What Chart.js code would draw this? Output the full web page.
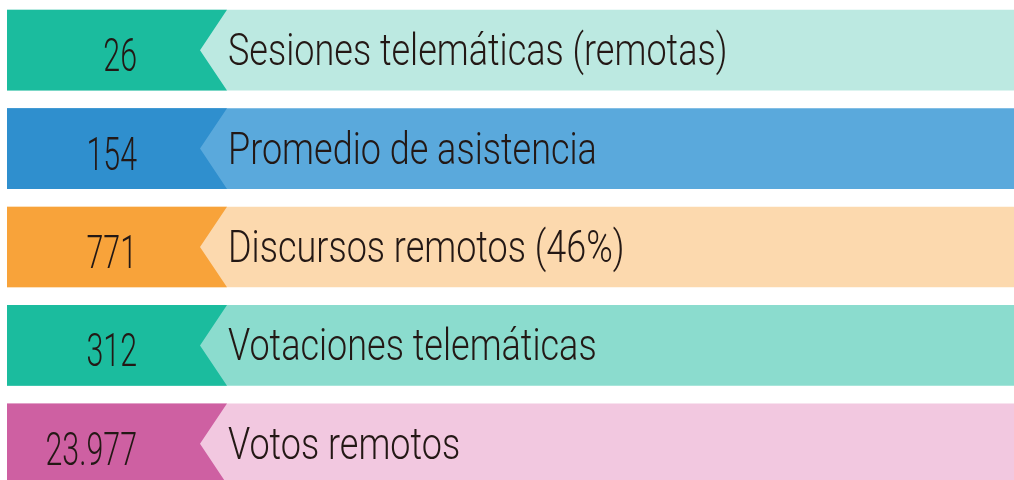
<!DOCTYPE html>
<html>
<head>
<meta charset="utf-8">
<script src="https://cdn.jsdelivr.net/npm/chart.js@4"></script>
<style>
    html, body { margin: 0; padding: 0; background: #fff; overflow: hidden; }
    .wrap { width: 1014px; height: 493px; position: relative; }
</style>
</head>
<body>
<div class="wrap"><canvas id="chart"></canvas></div>
<script>
const labels = [
    'Sesiones telemáticas (remotas)',
    'Promedio de asistencia',
    'Discursos remotos (46%)',
    'Votaciones telemáticas',
    'Votos remotos'
];
const values = [26, 154, 771, 312, 23977];
const barSpan = [1, 1, 1, 1, 1];
const darkColors = ['#1bbc9e', '#2f8fce', '#f8a33a', '#1bbc9e', '#ce60a2'];
const lightColors = ['#bce9e1', '#5aa9dc', '#fcd9ae', '#8bdcce', '#f2c8e0'];

function fmt(n) {
    return String(n).replace(/\B(?=(\d{3})+(?!\d))/g, '.');
}

// dark tab with a notch on the right, plus the texts
const tabs = {
    id: 'tabs',
    afterDatasetsDraw(chart) {
        const ctx = chart.ctx;
        const meta = chart.getDatasetMeta(0);
        meta.data.forEach((bar, i) => {
            const left = bar.base;
            const top = bar.y - bar.height / 2;
            const bottom = bar.y + bar.height / 2;
            ctx.save();
            ctx.fillStyle = darkColors[i];
            ctx.beginPath();
            ctx.moveTo(left, top);
            ctx.lineTo(left + 220, top);
            ctx.lineTo(left + 193, bar.y);
            ctx.lineTo(left + 220, bottom);
            ctx.lineTo(left, bottom);
            ctx.closePath();
            ctx.fill();

            ctx.fillStyle = '#231815';
            ctx.textBaseline = 'alphabetic';

            ctx.save();
            ctx.font = '300 45px Roboto, sans-serif';
            ctx.textAlign = 'left';
            ctx.translate(left + 221, bar.y + 15);
            ctx.scale(0.8, 1);
            ctx.fillText(labels[i], 0, 0);
            ctx.restore();

            ctx.font = '300 46px Roboto, sans-serif';
            ctx.textAlign = 'right';
            ctx.translate(left + 130, bar.y + 21);
            ctx.scale(0.66, 1);
            ctx.fillText(fmt(values[i]), 0, 0);
            ctx.restore();
        });
    }
};

const ctx = document.getElementById('chart').getContext('2d');
new Chart(ctx, {
    type: 'bar',
    data: {
        labels: labels,
        datasets: [{
            data: barSpan,
            backgroundColor: lightColors,
            borderWidth: 0,
            barPercentage: 0.82,
            categoryPercentage: 1
        }]
    },
    options: {
        indexAxis: 'y',
        responsive: true,
        maintainAspectRatio: false,
        animation: false,
        layout: { padding: { left: 7, right: 0, top: 1, bottom: 0 } },
        plugins: { legend: { display: false }, tooltip: { enabled: false } },
        scales: {
            x: { display: false, min: 0, max: 1 },
            y: { display: false }
        }
    },
    plugins: [tabs]
});
</script>
</body>
</html>
